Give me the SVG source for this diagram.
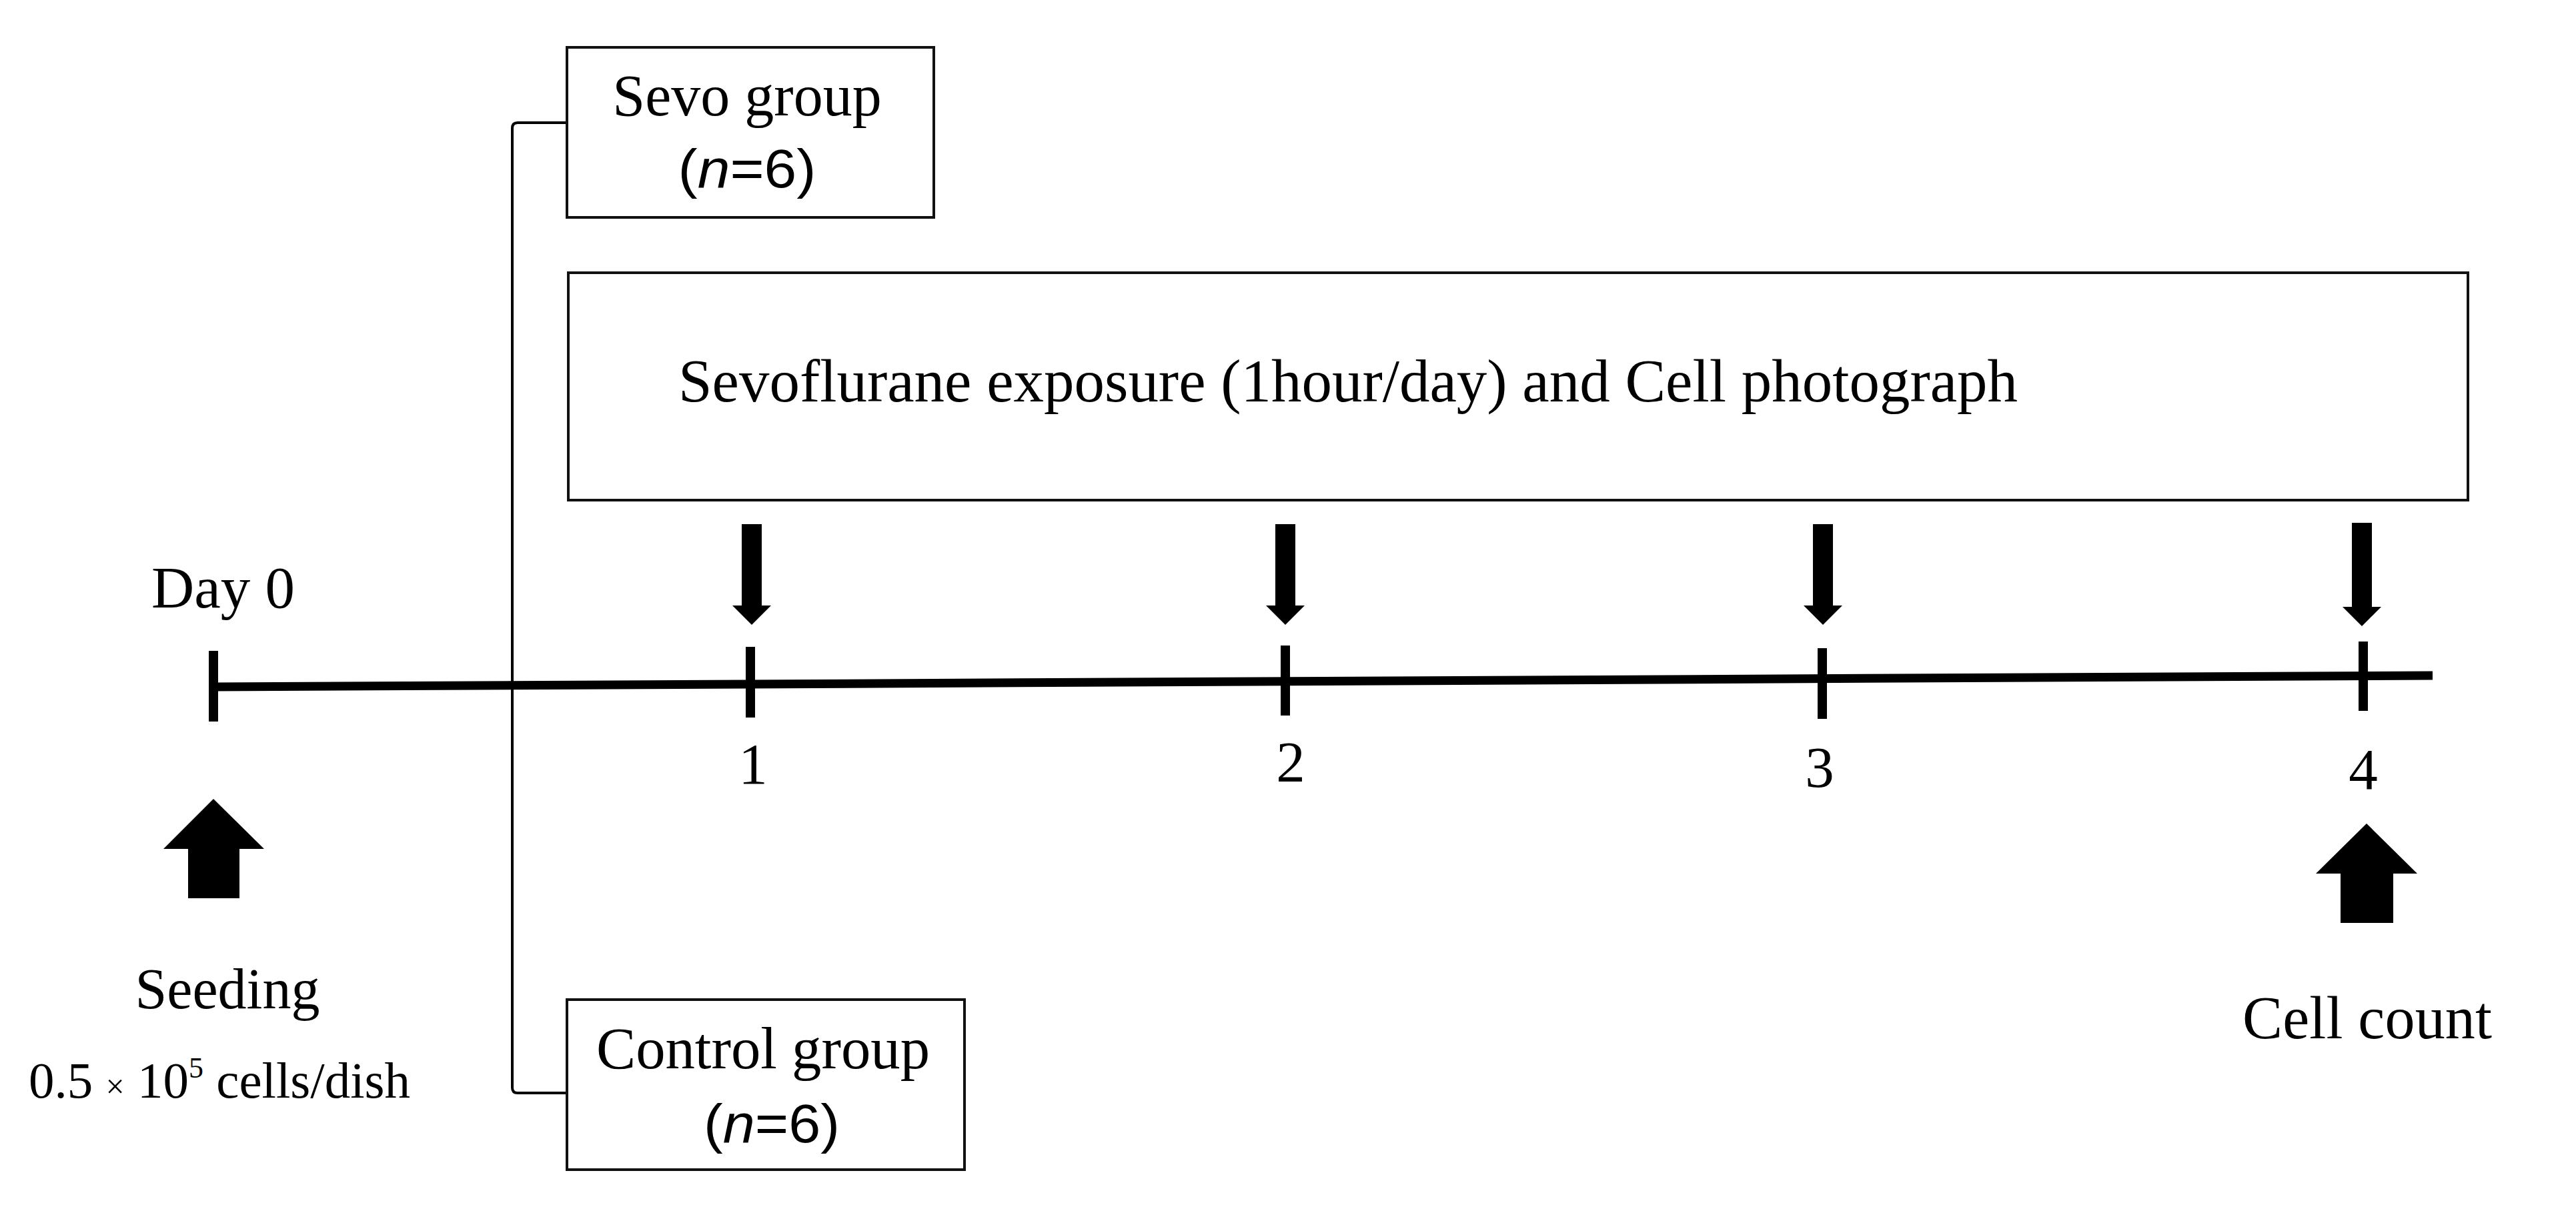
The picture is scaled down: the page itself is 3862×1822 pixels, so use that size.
<svg xmlns="http://www.w3.org/2000/svg" width="3862" height="1822" viewBox="0 0 3862 1822">
<style>
.box{fill:#fff;stroke:#111;stroke-width:4}
.serif{font-family:"Liberation Serif","Times New Roman",serif;fill:#000}
.sans{font-family:"Liberation Sans",Arial,sans-serif;fill:#000}
.line{fill:none;stroke:#000}
.arrow{fill:#000}
</style>
<rect width="3862" height="1822" fill="#fff"/>
<g id="connectors">
  <path class="line" stroke-width="4" d="M850 184 H776 Q768 184 768 192 V1631 Q768 1639 776 1639 H850"/>
  <polyline id="timeline" class="line" stroke-width="13" points="320,1030 3647,1013"/>
  <g id="ticks" class="line" stroke-width="14">
    <line x1="320" y1="976" x2="320" y2="1082"/>
    <line x1="1125" y1="970" x2="1125" y2="1076"/>
    <line x1="1927" y1="968" x2="1927" y2="1073"/>
    <line x1="2732" y1="972" x2="2732" y2="1078"/>
    <line x1="3543" y1="962" x2="3543" y2="1066"/>
  </g>
  <g id="down-arrows" class="arrow">
    <polygon points="1112,786 1142,786 1142,908 1156,908 1127,937 1098,908 1112,908"/>
    <polygon points="1912,786 1942,786 1942,908 1956,908 1927,937 1898,908 1912,908"/>
    <polygon points="2718,786 2748,786 2748,908 2762,908 2733,937 2704,908 2718,908"/>
    <polygon points="3526,784 3556,784 3556,910 3570,910 3541,939 3512,910 3526,910"/>
  </g>
  <g id="up-arrows" class="arrow">
    <polygon points="320,1198 396,1273 359,1273 359,1347 282,1347 282,1273 245,1273"/>
    <polygon points="3548,1235 3624,1310 3588,1310 3588,1384 3509,1384 3509,1310 3472,1310"/>
  </g>
</g>
<g id="sevo-group">
  <rect class="box" x="850" y="71" width="550" height="255"/>
  <text class="serif" x="1120" y="173" font-size="88" text-anchor="middle">Sevo group</text>
  <text class="sans" x="1120" y="281" font-size="82" text-anchor="middle" textLength="207" lengthAdjust="spacingAndGlyphs">(<tspan font-style="italic">n</tspan>=6)</text>
</g>
<g id="exposure">
  <rect class="box" x="852" y="409" width="2848" height="341"/>
  <text class="serif" x="1017" y="602" font-size="92" textLength="2008" lengthAdjust="spacingAndGlyphs">Sevoflurane exposure (1hour/day) and Cell photograph</text>
</g>
<g id="control-group">
  <rect class="box" x="850" y="1499" width="596" height="255"/>
  <text class="serif" x="1144" y="1602" font-size="88" text-anchor="middle" textLength="500" lengthAdjust="spacingAndGlyphs">Control group</text>
  <text class="sans" x="1157" y="1713" font-size="82" text-anchor="middle" textLength="204" lengthAdjust="spacingAndGlyphs">(<tspan font-style="italic">n</tspan>=6)</text>
</g>
<g id="day0">
  <text class="serif" x="227" y="911" font-size="89">Day 0</text>
</g>
<g id="day-labels" class="serif" font-size="87" text-anchor="middle">
  <text x="1129" y="1175">1</text>
  <text x="1935" y="1172">2</text>
  <text x="2728" y="1180">3</text>
  <text x="3543" y="1183">4</text>
</g>
<g id="seeding">
  <text class="serif" x="341" y="1512" font-size="86" text-anchor="middle">Seeding</text>
  <text class="serif" x="43" y="1646" font-size="77">0.5 <tspan font-size="50">×</tspan> 10<tspan font-size="44" dy="-30">5</tspan><tspan dy="30"> cells/dish</tspan></text>
</g>
<g id="cell-count">
  <text class="serif" x="3362" y="1557" font-size="90" textLength="374">Cell count</text>
</g>
</svg>
